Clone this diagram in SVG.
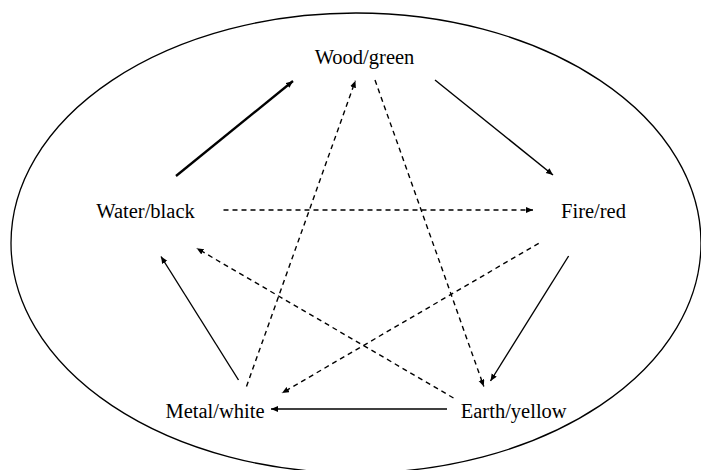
<svg xmlns="http://www.w3.org/2000/svg" width="701" height="470" viewBox="0 0 701 470">
<style>
.lbl{font-family:"Liberation Serif","Times New Roman",serif;font-size:20.5px;fill:#000;text-anchor:middle}
.c{stroke:#000;stroke-width:1.4;fill:none;marker-end:url(#ah)}
.thick{stroke-width:2.3}
.d{stroke-dasharray:5,4}
</style>
<defs>
<marker id="ah" markerUnits="userSpaceOnUse" markerWidth="8" markerHeight="7" refX="7" refY="3" orient="auto">
<path d="M0,0 L7,3 L0,6 Z" fill="#000"/>
</marker>
</defs>
<ellipse id="boundary" cx="356" cy="243" rx="345" ry="230" fill="none" stroke="#000" stroke-width="1.3"/>
<g id="connectors">
<line class="c thick" x1="176" y1="176" x2="293" y2="81"/>
<line class="c" x1="435" y1="80" x2="553" y2="175"/>
<line class="c" x1="568.6" y1="256" x2="490.5" y2="381"/>
<line class="c" x1="447" y1="409" x2="271" y2="409"/>
<line class="c" x1="238.5" y1="380" x2="161" y2="256.5"/>
<line class="c d" x1="223.5" y1="210" x2="533" y2="210"/>
<line class="c d" x1="538.7" y1="243.3" x2="282" y2="393"/>
<line class="c d" x1="453.5" y1="398" x2="196.7" y2="248.3"/>
<line class="c d" x1="246.5" y1="386.5" x2="355.4" y2="80.7"/>
<line class="c d" x1="375" y1="80" x2="483.8" y2="386.5"/>
</g>
<g id="wood"><text class="lbl" x="364.5" y="64">Wood/green</text></g>
<g id="fire"><text class="lbl" x="593.5" y="218">Fire/red</text></g>
<g id="earth"><text class="lbl" x="513.7" y="418">Earth/yellow</text></g>
<g id="metal"><text class="lbl" x="215" y="418">Metal/white</text></g>
<g id="water"><text class="lbl" x="145.5" y="218">Water/black</text></g>
</svg>
